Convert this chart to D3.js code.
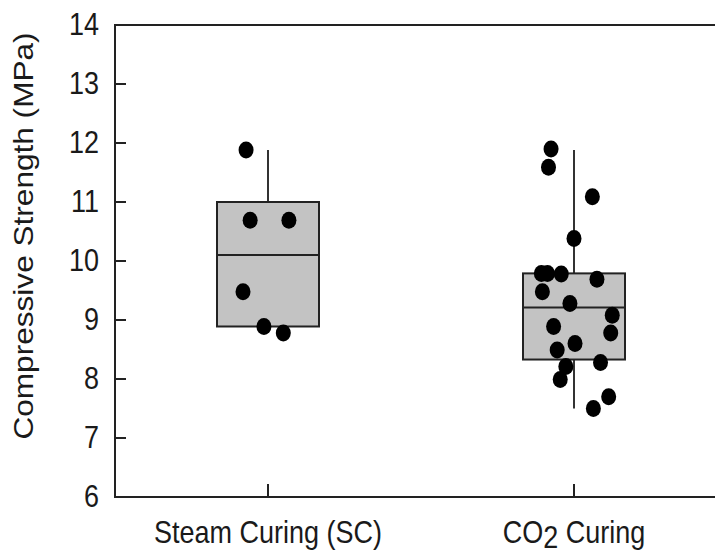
<!DOCTYPE html>
<html>
<head>
<meta charset="utf-8">
<script src="https://cdn.jsdelivr.net/npm/d3@7"></script>
<style>
  html, body { margin: 0; padding: 0; background: #fff; }
  svg { display: block; }
  text { font-family: "Liberation Sans", Arial, sans-serif; fill: #1a1a1a; }
</style>
</head>
<body>
<svg id="chart" width="715" height="553"></svg>
<script>
// Curing groups
const categories = ["Steam Curing (SC)", "CO2 Curing"];

// Individual compressive strength results (MPa)
const scValues  = [11.88, 10.69, 10.69, 9.48, 8.89, 8.78];
const co2Values = [11.90, 11.59, 11.09, 10.38, 9.79, 9.79, 9.78, 9.69, 9.48, 9.28,
                   9.08, 8.89, 8.78, 8.60, 8.49, 8.28, 8.21, 7.99, 7.70, 7.50];

// Horizontal scatter of each point, as a fraction of the box half-width
const scJitter  = [-0.43, -0.35, 0.41, -0.49, -0.08, 0.30];
const co2Jitter = [-0.45, -0.50, 0.36, 0.00, -0.64, -0.52, -0.25, 0.45, -0.62, -0.08,
                   0.75, -0.40, 0.72, 0.02, -0.33, 0.52, -0.16, -0.27, 0.68, 0.38];

// Box summaries: whisker low, lower quartile, median, upper quartile, whisker high
const whiskerLow  = [8.89, 7.50];
const quartileLow = [8.89, 8.33];
const medians     = [10.10, 9.21];
const quartileHigh= [11.00, 9.79];
const whiskerHigh = [11.88, 11.88];

// Y axis ticks
const yTicks = [6, 7, 8, 9, 10, 11, 12, 13, 14];

const svg = d3.select("#chart");
const ink = "#222";
const vStretch = 1.17;   // text is drawn slightly tall
const fontPx = 27;

const plot = { left: 115, right: 727, top: 25, bottom: 497 };

const y = d3.scaleLinear().domain([6, 14]).range([plot.bottom, plot.top]);
const x = d3.scalePoint().domain(categories).range([plot.left, plot.right]).padding(0.5);
const halfBox = 51;

const groups = [
  { name: categories[0], values: scValues,  jitter: scJitter },
  { name: categories[1], values: co2Values, jitter: co2Jitter }
].map((g, i) => Object.assign(g, {
  wLo: whiskerLow[i], q1: quartileLow[i], med: medians[i], q3: quartileHigh[i], wHi: whiskerHigh[i]
}));

// Frame: left axis, top and bottom lines
const frame = svg.append("g").attr("stroke", ink).attr("stroke-width", 2).attr("fill", "none");
frame.append("path")
  .attr("d", `M${plot.right},${plot.top}H${plot.left}V${plot.bottom}H${plot.right}`);

// Y ticks pointing inward
frame.selectAll("line.yt").data(yTicks.filter(t => t !== 6 && t !== 14)).join("line")
  .attr("x1", plot.left).attr("x2", plot.left + 11)
  .attr("y1", d => y(d)).attr("y2", d => y(d));

// X ticks pointing inward
frame.selectAll("line.xt").data(categories).join("line")
  .attr("x1", d => x(d)).attr("x2", d => x(d))
  .attr("y1", plot.bottom).attr("y2", plot.bottom - 13);

// Y tick labels
svg.append("g").selectAll("g").data(yTicks).join("g")
  .attr("transform", d => `translate(99,${y(d)}) scale(1,${vStretch})`)
  .append("text")
  .attr("text-anchor", "end")
  .attr("dy", 8.7)
  .style("font-size", fontPx + "px")
  .text(d => d);

// Category labels
const catG = svg.append("g").selectAll("g").data(categories).join("g")
  .attr("transform", d => `translate(${x(d)},543) scale(1,${vStretch})`);
catG.append("text")
  .attr("text-anchor", "middle")
  .style("font-size", fontPx + "px")
  .each(function(d) {
    const t = d3.select(this);
    if (d.startsWith("CO2")) {
      t.append("tspan").text("CO");
      t.append("tspan").attr("dy", 4).text("2");
      t.append("tspan").attr("dy", -4).text(d.slice(3));
    } else {
      t.text(d);
    }
  });

// Y axis title
svg.append("g")
  .attr("transform", `translate(33,236) scale(1,${vStretch}) rotate(-90)`)
  .append("text")
  .attr("text-anchor", "middle")
  .style("font-size", fontPx + "px")
  .text("Compressive Strength (MPa)");

// Boxes, whiskers and points
const gBox = svg.append("g").selectAll("g").data(groups).join("g");

gBox.append("line")
  .attr("x1", d => x(d.name)).attr("x2", d => x(d.name))
  .attr("y1", d => y(d.q3)).attr("y2", d => y(d.wHi))
  .attr("stroke", "#333").attr("stroke-width", 2);
gBox.append("line")
  .attr("x1", d => x(d.name)).attr("x2", d => x(d.name))
  .attr("y1", d => y(d.q1)).attr("y2", d => y(d.wLo))
  .attr("stroke", "#333").attr("stroke-width", 2);

gBox.append("rect")
  .attr("x", d => x(d.name) - halfBox)
  .attr("width", halfBox * 2)
  .attr("y", d => y(d.q3))
  .attr("height", d => y(d.q1) - y(d.q3))
  .attr("fill", "#c3c3c3")
  .attr("stroke", ink).attr("stroke-width", 2);

gBox.append("line")
  .attr("x1", d => x(d.name) - halfBox).attr("x2", d => x(d.name) + halfBox)
  .attr("y1", d => y(d.med)).attr("y2", d => y(d.med))
  .attr("stroke", ink).attr("stroke-width", 2);

gBox.selectAll("ellipse")
  .data(d => d.values.map((v, i) => ({ v, cx: x(d.name) + d.jitter[i] * halfBox })))
  .join("ellipse")
  .attr("cx", p => p.cx)
  .attr("cy", p => y(p.v))
  .attr("rx", 7.5).attr("ry", 8.5)
  .attr("fill", "#000");
</script>
</body>
</html>
